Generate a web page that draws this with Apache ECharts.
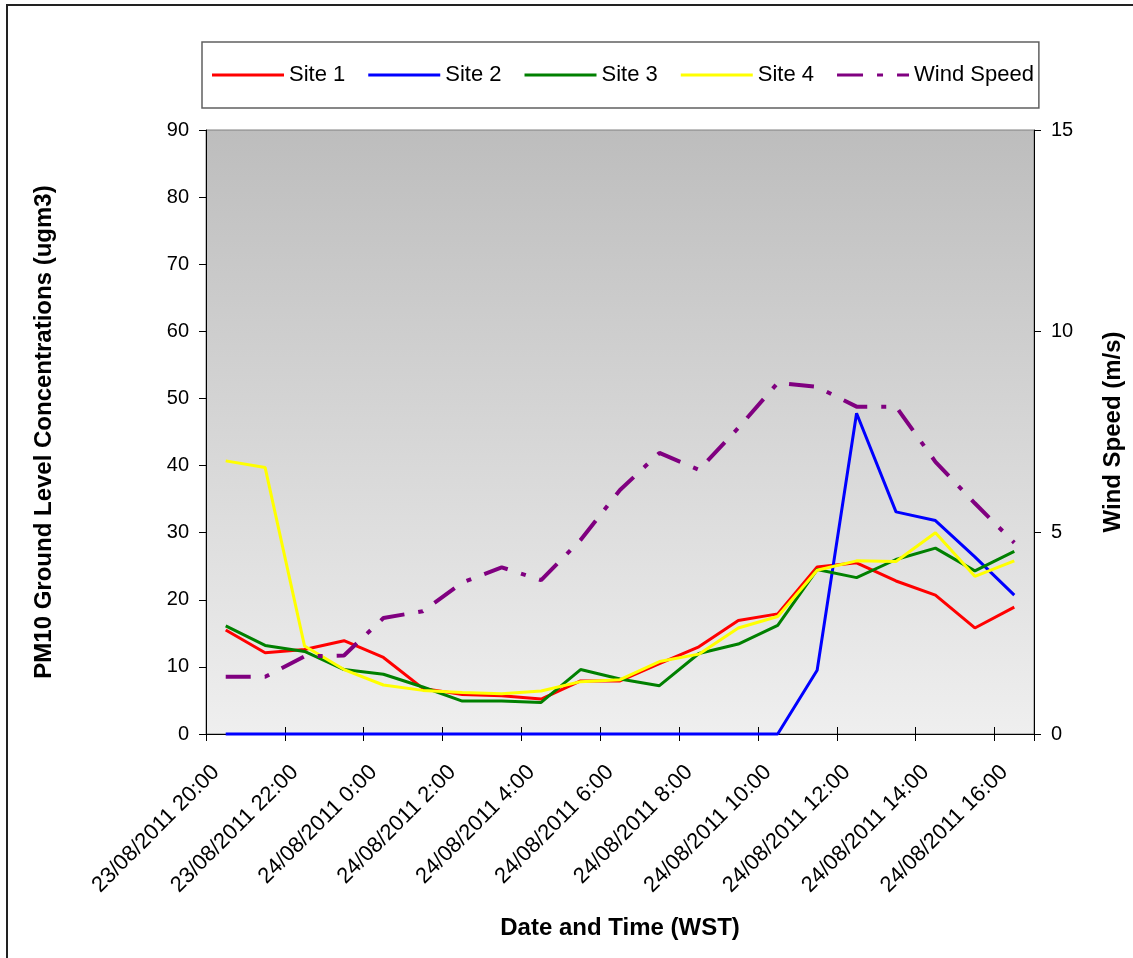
<!DOCTYPE html>
<html><head><meta charset="utf-8">
<script src="https://cdn.jsdelivr.net/npm/echarts@6/dist/echarts.min.js"></script>
<style>html,body{margin:0;padding:0;background:#fff}#c{width:1133px;height:958px}</style>
</head><body><div id="c"></div>
<script>
const categories = ['23/08/2011 20:00','23/08/2011 21:00','23/08/2011 22:00','23/08/2011 23:00',
  '24/08/2011 0:00','24/08/2011 1:00','24/08/2011 2:00','24/08/2011 3:00','24/08/2011 4:00',
  '24/08/2011 5:00','24/08/2011 6:00','24/08/2011 7:00','24/08/2011 8:00','24/08/2011 9:00',
  '24/08/2011 10:00','24/08/2011 11:00','24/08/2011 12:00','24/08/2011 13:00','24/08/2011 14:00',
  '24/08/2011 15:00','24/08/2011 16:00'];
const xTickLabels = ['23/08/2011 20:00','23/08/2011 22:00','24/08/2011 0:00','24/08/2011 2:00',
  '24/08/2011 4:00','24/08/2011 6:00','24/08/2011 8:00','24/08/2011 10:00','24/08/2011 12:00',
  '24/08/2011 14:00','24/08/2011 16:00'];
const site1 = [15.5,12.1,12.6,13.9,11.4,6.8,5.9,5.7,5.2,7.9,7.9,10.5,13.0,16.9,17.9,24.9,25.5,22.8,20.7,15.8,18.9];
const site2 = [0,0,0,0,0,0,0,0,0,0,0,0,0,0,0,9.5,47.8,33.1,31.8,26.4,20.7];
const site3 = [16.1,13.2,12.3,9.6,8.9,7.0,4.9,4.9,4.7,9.6,8.2,7.2,12.0,13.4,16.2,24.5,23.3,26.0,27.7,24.3,27.2];
const site4 = [40.7,39.7,13.1,9.6,7.3,6.5,6.2,6.0,6.4,7.8,8.1,10.8,11.9,15.8,17.5,24.4,25.8,25.7,30.0,23.5,25.8];
const windSpeed = [1.42,1.42,1.93,1.95,2.88,3.05,3.76,4.14,3.82,4.82,6.06,6.98,6.56,7.6,8.72,8.62,8.13,8.13,6.76,5.73,4.75];
const pmAxis = {min:0, max:90, interval:10};
const windAxis = {min:0, max:15, interval:5};

const FONT = '"Liberation Sans", Arial, sans-serif';
const SOLID_ICON = 'path://M0,0H72V3H0Z';
const DASHDOT_ICON = 'path://M0,0H26V3H0Z M40,0H46V3H40Z M60,0H72V3H60Z';
const chart = echarts.init(document.getElementById('c'), null, {renderer:'canvas'});
function lineSeries(name, data, color, yIndex, width, type) {
  return {name, type:'line', data, xAxisIndex:0, yAxisIndex:yIndex, symbol:'none', showSymbol:false, clip:false,
    lineStyle:{color, width, type: type || 'solid', cap:'butt'}, itemStyle:{color}, animation:false};
}
chart.setOption({
  animation:false,
  textStyle:{fontFamily:FONT, color:'#000'},
  graphic:[{type:'rect', z:-10, shape:{x:7, y:5, width:1200, height:1000}, style:{fill:'none', stroke:'#222', lineWidth:2}}],
  legend:{
    left:202, top:42, orient:'horizontal',
    padding:[22,5,22,10], itemGap:23, itemWidth:72, itemHeight:3,
    borderColor:'#606060', borderWidth:1.5, backgroundColor:'#fff',
    itemStyle:{borderWidth:0},
    textStyle:{fontSize:22, color:'#000', fontFamily:FONT},
    data:[{name:'Site 1', icon:SOLID_ICON},{name:'Site 2', icon:SOLID_ICON},{name:'Site 3', icon:SOLID_ICON},
          {name:'Site 4', icon:SOLID_ICON},{name:'Wind Speed', icon:DASHDOT_ICON}]
  },
  grid:{left:206, right:97, top:130, bottom:224, show:true, borderColor:'#808080', borderWidth:1,
    backgroundColor:{type:'linear', x:0, y:0, x2:0, y2:1, colorStops:[{offset:0,color:'#bdbdbd'},{offset:1,color:'#efefef'}]}},
  xAxis:[
    {type:'category', data:categories, boundaryGap:true, position:'bottom',
     axisLine:{show:true, lineStyle:{color:'#000', width:1}},
     axisTick:{show:true, inside:true, length:7, interval:1, lineStyle:{color:'#000'}},
     axisLabel:{show:false}, splitLine:{show:false},
     name:'Date and Time (WST)', nameLocation:'middle', nameGap:182,
     nameTextStyle:{fontSize:24, fontWeight:'bold', color:'#000', fontFamily:FONT}},
    {type:'value', min:0, max:categories.length, interval:2, position:'bottom',
     axisLine:{show:false}, axisTick:{show:true, length:7, lineStyle:{color:'#000'}},
     splitLine:{show:false},
     axisLabel:{rotate:45, margin:25, fontSize:22, color:'#000', fontFamily:FONT,
       rich:{t:{fontSize:22, color:'#000', fontFamily:FONT, padding:[28,0,0,0]}},
       formatter:function(v){ const t = xTickLabels[v/2]; return t === undefined ? '' : '{t|' + t + '}'; }}}
  ],
  yAxis:[
    {type:'value', min:pmAxis.min, max:pmAxis.max, interval:pmAxis.interval, position:'left',
     axisLine:{show:true, lineStyle:{color:'#000'}}, axisTick:{show:true, length:7, lineStyle:{color:'#000'}},
     splitLine:{show:false}, axisLabel:{fontSize:20, color:'#000', margin:17, fontFamily:FONT},
     name:'PM10 Ground Level Concentrations (ugm3)', nameLocation:'middle', nameRotate:90, nameGap:150,
     nameTextStyle:{fontSize:24, fontWeight:'bold', color:'#000', fontFamily:FONT}},
    {type:'value', min:windAxis.min, max:windAxis.max, interval:windAxis.interval, position:'right',
     axisLine:{show:true, lineStyle:{color:'#000'}}, axisTick:{show:true, length:7, lineStyle:{color:'#000'}},
     splitLine:{show:false}, axisLabel:{fontSize:20, color:'#000', margin:17, fontFamily:FONT},
     name:'Wind Speed (m/s)', nameLocation:'middle', nameRotate:90, nameGap:67,
     nameTextStyle:{fontSize:24, fontWeight:'bold', color:'#000', fontFamily:FONT}}
  ],
  series:[
    lineSeries('Site 1', site1, '#ff0000', 0, 3),
    lineSeries('Site 2', site2, '#0000ff', 0, 3),
    lineSeries('Site 3', site3, '#008000', 0, 3),
    lineSeries('Site 4', site4, '#ffff00', 0, 3),
    lineSeries('Wind Speed', windSpeed, '#800080', 1, 4, [25,14,5,14])
  ]
});
</script></body></html>
